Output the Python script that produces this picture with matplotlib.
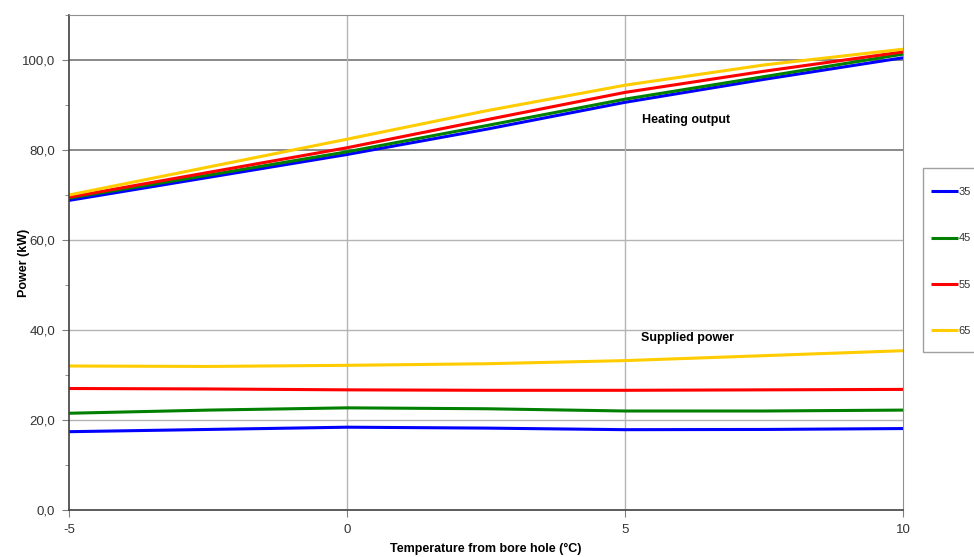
import numpy as np
import matplotlib
matplotlib.use('Agg')
import matplotlib.pyplot as plt
from matplotlib.patches import Rectangle
from matplotlib.ticker import MultipleLocator, FuncFormatter

plt.rcParams['font.family'] = ['Liberation Sans', 'DejaVu Sans']
plt.rcParams['axes.unicode_minus'] = False

# temperature from bore hole (C)
temp = [-5, -2.5, 0, 2.5, 5, 7.5, 10]

# heating output (kW) per supply temperature
heat_35 = [68.8, 73.9, 79.0, 84.6, 90.6, 95.7, 100.5]
heat_45 = [69.3, 74.4, 79.6, 85.4, 91.3, 96.3, 101.3]
heat_55 = [69.5, 75.0, 80.5, 86.7, 92.8, 97.5, 101.8]
heat_65 = [70.0, 76.2, 82.4, 88.7, 94.4, 98.9, 102.4]

# supplied power (kW)
sup_35 = [17.4, 17.9, 18.4, 18.2, 17.85, 17.9, 18.1]
sup_45 = [21.5, 22.2, 22.7, 22.5, 22.0, 22.0, 22.2]
sup_55 = [27.0, 26.9, 26.7, 26.6, 26.6, 26.7, 26.8]
sup_65 = [32.0, 31.9, 32.15, 32.5, 33.2, 34.3, 35.4]

labels = ['35', '45', '55', '65']
colors = ['#0000ff', '#008000', '#ff0000', '#ffcc00']

W, H = 974, 557
fig = plt.figure(figsize=(W/100, H/100), dpi=100)
ax = fig.add_axes([69/W, 1 - 510/H, 834/W, 495/H])

lines = []
for h, s, c, lab in zip([heat_35, heat_45, heat_55, heat_65],
                        [sup_35, sup_45, sup_55, sup_65], colors, labels):
    l, = ax.plot(temp, h, color=c, lw=2.2, label=lab, solid_capstyle='butt')
    ax.plot(temp, s, color=c, lw=2.2, solid_capstyle='butt')
    lines.append(l)

ax.set_xlim(-5, 10)
ax.set_ylim(0, 110)
ax.xaxis.set_major_locator(MultipleLocator(5))
ax.yaxis.set_major_locator(MultipleLocator(20))
ax.yaxis.set_minor_locator(MultipleLocator(10))
ax.yaxis.set_major_formatter(FuncFormatter(lambda v, p: '{:.1f}'.format(v).replace('.', ',')))

# gridlines (the upper two look darker in the original)
for yv in [20, 40, 60]:
    ax.axhline(yv, color='#b4b4b4', lw=1, zorder=0)
for yv in [80, 100]:
    ax.axhline(yv, color='#808080', lw=1.3, zorder=0)
for xv in [0, 5]:
    ax.axvline(xv, color='#b4b4b4', lw=1, zorder=0)

for side in ['top', 'right']:
    ax.spines[side].set_color('#909090')
for side in ['left', 'bottom']:
    ax.spines[side].set_color('#404040')
    ax.spines[side].set_linewidth(1.2)

ax.tick_params(axis='both', which='both', direction='out', color='#808080',
               labelsize=9.5, labelcolor='#333333')
ax.tick_params(axis='both', which='major', length=5, pad=5)
ax.tick_params(axis='y', which='minor', length=3)

ax.set_xlabel('Temperature from bore hole (°C)', fontsize=9, fontweight='bold', labelpad=5)
ax.set_ylabel('Power (kW)', fontsize=9, fontweight='bold', labelpad=-6)

ax.text(5.3, 86.6, 'Heating output', fontsize=9, fontweight='bold', va='center')
ax.text(5.28, 38.2, 'Supplied power', fontsize=9, fontweight='bold', va='center')

# legend box runs off the right edge of the picture, as in the original
fig.add_artist(Rectangle((923/W, 1 - 352/H), 80/W, 184/H, transform=fig.transFigure,
                         facecolor='white', edgecolor='#a0a0a0', lw=1.0))
leg = fig.legend(handles=lines, loc='upper left', bbox_to_anchor=(931/W, 1 - 187/H),
                 fontsize=8, frameon=False, handlelength=2.4, handletextpad=0.1,
                 labelspacing=3.28, borderpad=0, borderaxespad=0)
for t in leg.get_texts():
    t.set_color('#333333')

fig.savefig('out.png', dpi=100)
